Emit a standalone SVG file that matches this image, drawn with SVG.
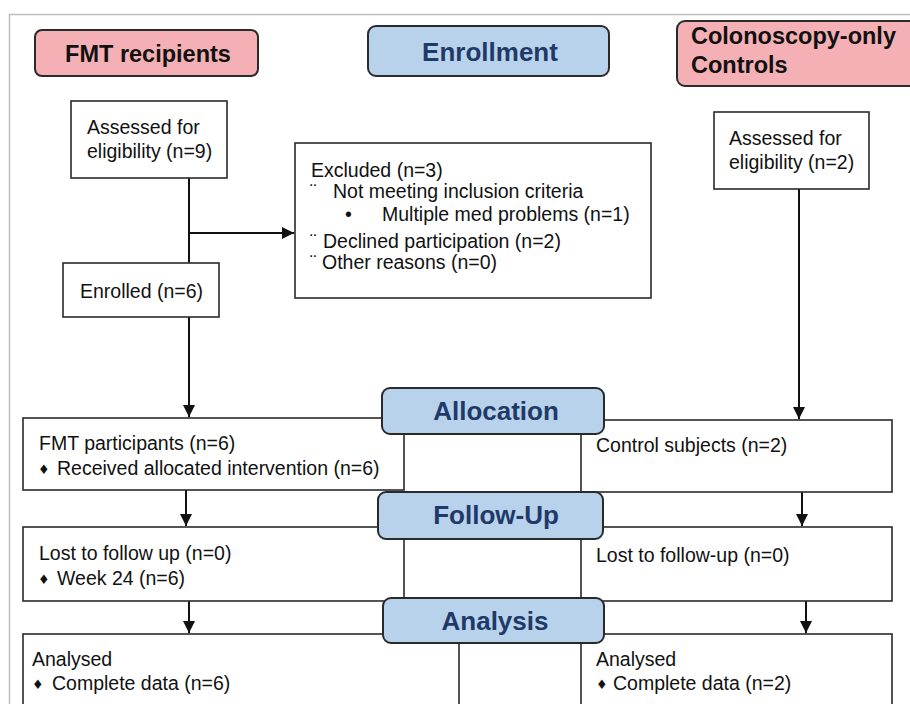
<svg xmlns="http://www.w3.org/2000/svg" width="910" height="704" viewBox="0 0 910 704">
<defs>
<marker id="arr" viewBox="0 0 10 10" refX="10" refY="5" markerWidth="12" markerHeight="12" markerUnits="userSpaceOnUse" orient="auto">
<path d="M0,0 L10,5 L0,10 Z" fill="#111"/>
</marker>
<style>
.box{fill:#fff;stroke:#2a2a2a;stroke-width:1.6}
.pink{fill:#F4B0B4;stroke:#2a2a2a;stroke-width:2}
.blue{fill:#B9D2EC;stroke:#2a2a2a;stroke-width:2}
.t{font-family:"Liberation Sans",Arial,sans-serif;font-size:19.5px;fill:#111}
.hp{font-family:"Liberation Sans",Arial,sans-serif;font-size:23.5px;font-weight:bold;fill:#111}
.hb{font-family:"Liberation Sans",Arial,sans-serif;font-size:26px;font-weight:bold;fill:#1F3A68;text-anchor:middle}
.d{font-family:"DejaVu Sans",sans-serif;font-size:13px;fill:#111}
.c{stroke:#111;stroke-width:2;fill:none}
</style>
</defs>
<rect x="0" y="0" width="910" height="704" fill="#fff"/>
<path d="M9.5,704 V14.5 H910" fill="none" stroke="#bdbdbd" stroke-width="1.5"/>

<g id="connectors">
<path class="c" d="M189,178 V263"/>
<path class="c" d="M189,233 H294" marker-end="url(#arr)"/>
<path class="c" d="M189,317 V417" marker-end="url(#arr)"/>
<path class="c" d="M799,189 V419" marker-end="url(#arr)"/>
<path class="c" d="M186,490 V526" marker-end="url(#arr)"/>
<path class="c" d="M802,492 V526" marker-end="url(#arr)"/>
<path class="c" d="M189,601 V633" marker-end="url(#arr)"/>
<path class="c" d="M806,601 V633" marker-end="url(#arr)"/>
</g>

<g id="assessed-fmt">
<rect class="box" x="71" y="101" width="156" height="77"/>
<text class="t" x="87" y="134">Assessed for</text>
<text class="t" x="87" y="158">eligibility (n=9)</text>
</g>
<g id="excluded">
<rect class="box" x="295" y="143" width="356" height="155"/>
<text class="t" x="311" y="177">Excluded (n=3)</text>
<text class="t" x="310" y="198">¨</text>
<text class="t" x="333" y="198">Not meeting inclusion criteria</text>
<text class="t" x="345" y="221">•</text>
<text class="t" x="382" y="221">Multiple med problems (n=1)</text>
<text class="t" x="310" y="248">¨</text>
<text class="t" x="323" y="248">Declined participation (n=2)</text>
<text class="t" x="310" y="269">¨</text>
<text class="t" x="322" y="269">Other reasons (n=0)</text>
</g>
<g id="enrolled">
<rect class="box" x="63" y="263" width="156" height="54"/>
<text class="t" x="80" y="298">Enrolled (n=6)</text>
</g>
<g id="assessed-ctrl">
<rect class="box" x="714" y="112" width="155" height="77"/>
<text class="t" x="729" y="145">Assessed for</text>
<text class="t" x="729" y="169">eligibility (n=2)</text>
</g>

<g id="fmt-participants">
<rect class="box" x="23" y="418" width="381" height="72"/>
<text class="t" x="39" y="450">FMT participants (n=6)</text>
<text class="d" x="38" y="474">♦</text>
<text class="t" x="57" y="475">Received allocated intervention (n=6)</text>
</g>
<g id="control-subjects">
<rect class="box" x="581" y="420" width="311" height="72"/>
<text class="t" x="596" y="452">Control subjects (n=2)</text>
</g>
<g id="fmt-followup">
<rect class="box" x="23" y="527" width="381" height="74"/>
<text class="t" x="39" y="560">Lost to follow up (n=0)</text>
<text class="d" x="38" y="584">♦</text>
<text class="t" x="57" y="585">Week 24 (n=6)</text>
</g>
<g id="ctrl-followup">
<rect class="box" x="581" y="527" width="311" height="74"/>
<text class="t" x="596" y="562">Lost to follow-up (n=0)</text>
</g>
<g id="fmt-analysed">
<rect class="box" x="23" y="634" width="436" height="90"/>
<text class="t" x="32" y="666">Analysed</text>
<text class="d" x="32" y="689">♦</text>
<text class="t" x="52" y="690">Complete data (n=6)</text>
</g>
<g id="ctrl-analysed">
<rect class="box" x="581" y="634" width="311" height="90"/>
<text class="t" x="596" y="666">Analysed</text>
<text class="d" x="596" y="689">♦</text>
<text class="t" x="613" y="690">Complete data (n=2)</text>
</g>

<g id="fmt-recipients">
<rect class="pink" x="35" y="30" width="223" height="46" rx="7"/>
<text class="hp" x="148" y="62" text-anchor="middle">FMT recipients</text>
</g>
<g id="enrollment">
<rect class="blue" x="368" y="26" width="241" height="50" rx="8"/>
<text class="hb" x="490" y="61">Enrollment</text>
</g>
<g id="colonoscopy-controls">
<rect class="pink" x="677" y="21" width="240" height="65" rx="8"/>
<text class="hp" x="691" y="44">Colonoscopy-only</text>
<text class="hp" x="691" y="73">Controls</text>
</g>
<g id="allocation">
<rect class="blue" x="382" y="388" width="222" height="46" rx="8"/>
<text class="hb" x="496" y="420">Allocation</text>
</g>
<g id="follow-up">
<rect class="blue" x="378" y="492" width="225" height="47" rx="8"/>
<text class="hb" x="496" y="524">Follow-Up</text>
</g>
<g id="analysis">
<rect class="blue" x="383" y="598" width="221" height="45" rx="8"/>
<text class="hb" x="495" y="630">Analysis</text>
</g>
</svg>
